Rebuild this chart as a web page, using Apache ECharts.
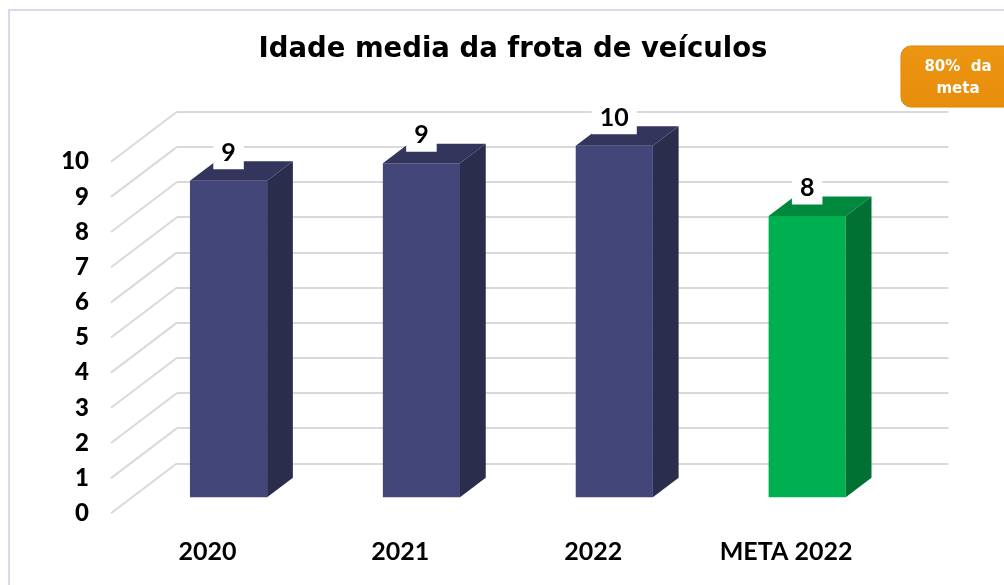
<!DOCTYPE html>
<html>
<head>
<meta charset="utf-8">
<title>Idade media da frota de veículos</title>
<script src="https://cdn.jsdelivr.net/npm/echarts@6/dist/echarts.min.js"></script>
<style>
  html, body { margin: 0; padding: 0; background: #fff; }
  #js-echarts { width: 1004px; height: 585px; }
</style>
</head>
<body>
<div id="js-echarts"></div>
<script>
// chart data
const categories = ['2020', '2021', '2022', 'META 2022'];
const values = [9, 9.5, 10, 8];
const valueLabels = ['9', '9', '10', '8'];
const yTicks = [0, 1, 2, 3, 4, 5, 6, 7, 8, 9, 10];
const badgeText = '80%  da\nmeta';

const chartDom = document.getElementById('js-echarts');
if (chartDom) {
  const chart = echarts.init(chartDom);
  const theme = {
    navyFront: '#434679',
    navyTop: '#33355c',
    navySide: '#2b2d4d',
    greenFront: '#00b050',
    greenTop: '#00893d',
    greenSide: '#007033',
    grid: '#d9d9d9',
    border: '#d9d9ec',
    orange: '#e88d0c'
  };
  const palette = [
    [theme.navyFront, theme.navyTop, theme.navySide],
    [theme.navyFront, theme.navyTop, theme.navySide],
    [theme.navyFront, theme.navyTop, theme.navySide],
    [theme.greenFront, theme.greenTop, theme.greenSide]
  ];

  // oblique depth of the floor / wall
  const depth = { x: 66, y: 50 };
  const front = { left: 111, right: 121.5, top: 161.7, bottom: 71.7 };
  const back = {
    left: front.left + depth.x,
    right: front.right - depth.x,
    top: front.top - depth.y,
    bottom: front.bottom + depth.y
  };
  const barOffset = 0.32;  // where the bar front face sits in the depth
  const barDepth = 0.39;
  const font = 'Lato, sans-serif';
  const headFont = '"DejaVu Sans", sans-serif';

  const wallLines = function (params, api) {
    const y = api.coord([0, api.value(0)])[1];
    const x = params.coordSys.x;
    return {
      type: 'polyline',
      shape: { points: [[x, y], [x + depth.x, y - depth.y]] },
      style: { stroke: theme.grid, lineWidth: 2, fill: null },
      silent: true
    };
  };

  const bar3d = function (params, api) {
    const idx = api.value(0);
    const base = api.coord([idx, 0]);
    const top = api.coord([idx, api.value(1)]);
    const bw = api.size([1, 0])[0] * 0.4;
    const x = base[0] - bw / 2 + depth.x * barOffset;
    const yTop = top[1] - depth.y * barOffset;
    const yBot = base[1] - depth.y * barOffset;
    const dx = depth.x * barDepth;
    const dy = -depth.y * barDepth;
    const c = palette[idx];
    return {
      type: 'group',
      children: [
        {
          type: 'rect',
          shape: { x: x, y: yTop, width: bw, height: yBot - yTop },
          style: { fill: c[0] }
        },
        {
          type: 'polygon',
          shape: { points: [[x, yTop], [x + dx, yTop + dy], [x + bw + dx, yTop + dy], [x + bw, yTop]] },
          style: { fill: c[1] }
        },
        {
          type: 'polygon',
          shape: { points: [[x + bw, yTop], [x + bw + dx, yTop + dy], [x + bw + dx, yBot + dy], [x + bw, yBot]] },
          style: { fill: c[2] }
        },
        {
          type: 'text',
          style: {
            text: valueLabels[idx],
            x: x + bw / 2,
            y: yTop - 28,
            align: 'center',
            verticalAlign: 'middle',
            font: 'bold 25px ' + font,
            fill: '#000',
            lineHeight: 26,
            backgroundColor: '#fff',
            padding: [0, 8, 7, 8]
          }
        }
      ]
    };
  };

  const option = {
    animation: false,
    graphic: [
      {
        type: 'rect',
        shape: { x: 9, y: 10, width: 1200, height: 800 },
        style: { fill: null, stroke: theme.border, lineWidth: 2 },
        silent: true
      },
      {
        type: 'text',
        x: 513,
        y: 50,
        style: {
          text: 'Idade media da frota de veículos',
          align: 'center',
          verticalAlign: 'middle',
          font: 'bold 27.5px ' + headFont,
          fill: '#000'
        }
      },
      {
        type: 'rect',
        shape: { x: 901, y: 46, width: 114, height: 61, r: 10 },
        style: {
          fill: {
            type: 'linear', x: 0, y: 0, x2: 0, y2: 1,
            colorStops: [
              { offset: 0, color: '#ec9612' },
              { offset: 1, color: theme.orange }
            ]
          },
          stroke: '#dc8306',
          lineWidth: 1
        }
      },
      {
        type: 'text',
        x: 958,
        y: 78.5,
        style: {
          text: badgeText,
          align: 'center',
          verticalAlign: 'middle',
          font: 'bold 15px ' + headFont,
          lineHeight: 22,
          fill: '#fff'
        }
      }
    ],
    grid: [
      { left: front.left, right: front.right, top: front.top, bottom: front.bottom },
      { left: back.left, right: back.right, top: back.top, bottom: back.bottom }
    ],
    xAxis: [
      {
        type: 'category',
        gridIndex: 0,
        data: categories,
        axisTick: { show: false },
        axisLine: { show: false },
        axisLabel: {
          margin: 26,
          color: '#000',
          fontFamily: font,
          fontWeight: 'bold',
          fontSize: 25
        }
      },
      {
        type: 'category',
        gridIndex: 1,
        data: categories,
        show: false
      }
    ],
    yAxis: [
      {
        type: 'value',
        gridIndex: 0,
        min: yTicks[0],
        max: yTicks[yTicks.length - 1],
        interval: 1,
        axisLine: { show: false },
        axisTick: { show: false },
        splitLine: { show: false },
        axisLabel: {
          margin: 22,
          color: '#000',
          fontFamily: font,
          fontWeight: 900,
          fontSize: 24
        }
      },
      {
        type: 'value',
        gridIndex: 1,
        min: yTicks[0],
        max: yTicks[yTicks.length - 1],
        interval: 1,
        axisLine: { show: false },
        axisTick: { show: false },
        axisLabel: { show: false },
        splitLine: {
          lineStyle: { color: theme.grid, width: 2 }
        }
      }
    ],
    series: [
      {
        type: 'custom',
        xAxisIndex: 0,
        yAxisIndex: 0,
        z: 1,
        renderItem: wallLines,
        data: yTicks.map(function (v) { return [v]; })
      },
      {
        type: 'custom',
        xAxisIndex: 0,
        yAxisIndex: 0,
        z: 3,
        renderItem: bar3d,
        encode: { x: 0, y: 1 },
        data: values.map(function (v, i) { return [i, v]; })
      }
    ]
  };

  chart.setOption(option);
}
</script>
</body>
</html>
